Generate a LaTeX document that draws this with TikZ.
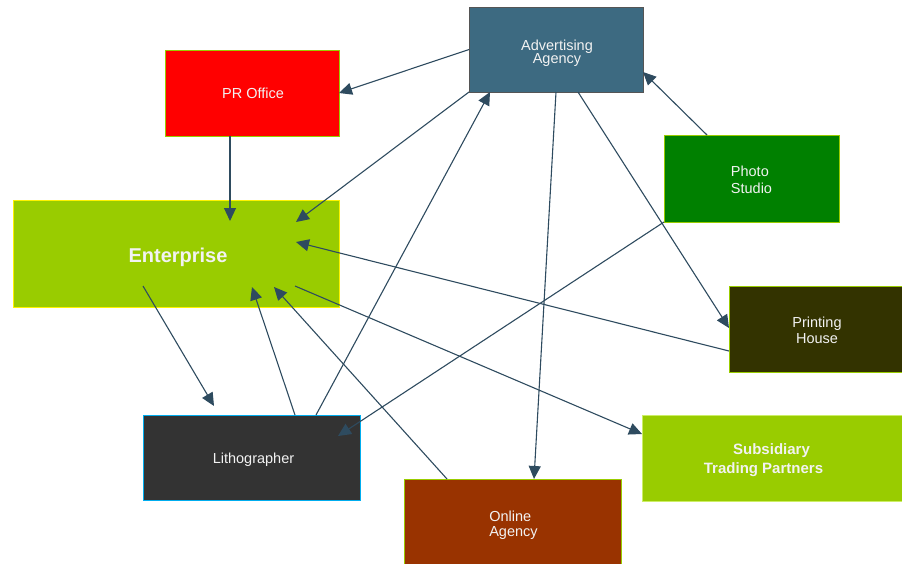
\documentclass[tikz,border=0pt]{standalone}
\usepackage{fontspec}
\setmainfont{Liberation Sans}
\usetikzlibrary{arrows.meta,calc}
\definecolor{advfill}{HTML}{3D6A81}
\definecolor{advline}{HTML}{555555}
\definecolor{ygreen}{HTML}{99CC00}
\definecolor{pgreen}{HTML}{008000}
\definecolor{olive}{HTML}{333300}
\definecolor{litho}{HTML}{333333}
\definecolor{brown}{HTML}{993300}
\definecolor{arrowc}{HTML}{2E4B5F}
\definecolor{txt}{HTML}{F2F2F2}
\definecolor{subline}{HTML}{CCEE66}
\tikzset{
  box/.style={rectangle, draw, line width=1pt, inner sep=0pt, outer sep=0pt, anchor=north west},
  lbl/.style={inner sep=0pt, text=txt, font=\fontsize{14.5}{15.5}\selectfont, align=center},
  arr/.style={draw=arrowc, line width=1.1pt, -{Triangle[length=13pt,width=12pt]}}
}
\begin{document}
\begin{tikzpicture}[x=1pt,y=-1pt]
\useasboundingbox (0,0) rectangle (902,563);
\clip (0,0) rectangle (902,563);
\node[box, fill=advfill, draw=advline, minimum width=174pt, minimum height=85pt] (adv) at (469,7) {};
\node[box, fill=red, draw=ygreen, minimum width=174pt, minimum height=86pt] (pr) at (165,50) {};
\node[box, fill=ygreen, draw=yellow, minimum width=326pt, minimum height=107pt] (ent) at (13,200) {};
\node[box, fill=pgreen, draw=ygreen, minimum width=175pt, minimum height=87pt] (photo) at (664,135) {};
\node[box, fill=olive, draw=ygreen, minimum width=174pt, minimum height=86pt] (print) at (729,286) {};
\node[box, fill=litho, draw=cyan, minimum width=217pt, minimum height=85pt] (lith) at (143,415) {};
\node[box, fill=ygreen, draw=subline, minimum width=261pt, minimum height=86pt] (sub) at (642,415) {};
\node[box, fill=brown, draw=ygreen, minimum width=217pt, minimum height=86pt] (online) at (404,479) {};

\node[lbl, font=\fontsize{14.5}{13}\selectfont] (advT) at ([xshift=1pt,yshift=-4pt]adv.center) {Advertising\\ Agency};
\node[lbl] (prT) at ([xshift=1pt]pr.center) {PR Office};
\node[lbl, font=\fontsize{20}{22}\selectfont\bfseries] (entT) at ([xshift=2pt,yshift=-3.5pt]ent.center) {Enterprise};
\node[lbl, align=left, font=\fontsize{14.5}{17}\selectfont] (photoT) at ([yshift=-1pt]photo.center) {Photo\\Studio};
\node[lbl, font=\fontsize{14.5}{15.5}\selectfont] (printT) at ([xshift=1pt,yshift=-1.5pt]print.center) {Printing\\House};
\node[lbl] (lithT) at ([xshift=2pt,yshift=-2.5pt]lith.center) {Lithographer};
\node[lbl, font=\fontsize{15}{19}\selectfont\bfseries] (subT) at ([xshift=-9pt,yshift=-2pt]sub.center) {\hspace*{16pt}Subsidiary\\Trading Partners};
\node[lbl, align=left, font=\fontsize{14.5}{14.7}\selectfont] (onlineT) at ([xshift=1pt,yshift=-3pt]online.center) {Online\\Agency};

% interior targets / sources
\coordinate (eA) at (230,221);
\coordinate (eB) at (296,222);
\coordinate (eC) at (296,242);
\coordinate (eD) at (252,287);
\coordinate (eE) at (274,287);
\coordinate (eF) at (295,286);
\coordinate (eG) at (143,286);
\coordinate (lA) at (214,406);
\coordinate (lB) at (338,436);

\draw[arr] (adv.west) -- (pr.east);
\draw[arr] ([xshift=-22pt]pr.south) -- (eA);
\draw[arr] (adv.south west) -- (eB);
\draw[arr] ([xshift=43pt]photo.north west) -- ([yshift=-65pt]adv.north east);
\draw[arr] ([xshift=109pt]adv.south west) -- ([yshift=-42pt]print.north west);
\draw[arr] ([xshift=87pt]adv.south west) -- ([xshift=130pt]online.north west);
\draw[arr] ([xshift=173pt]lith.north west) -- ([xshift=21pt]adv.south west);
\draw[arr] ([yshift=-65pt]print.north west) -- (eC);
\draw[arr] (eG) -- (lA);
\draw[arr] ([xshift=152pt]lith.north west) -- (eD);
\draw[arr] ([xshift=43pt]online.north west) -- (eE);
\draw[arr] (eF) -- ([yshift=-19pt]sub.north west);
\draw[arr] (photo.south west) -- (lB);
\end{tikzpicture}
\end{document}
